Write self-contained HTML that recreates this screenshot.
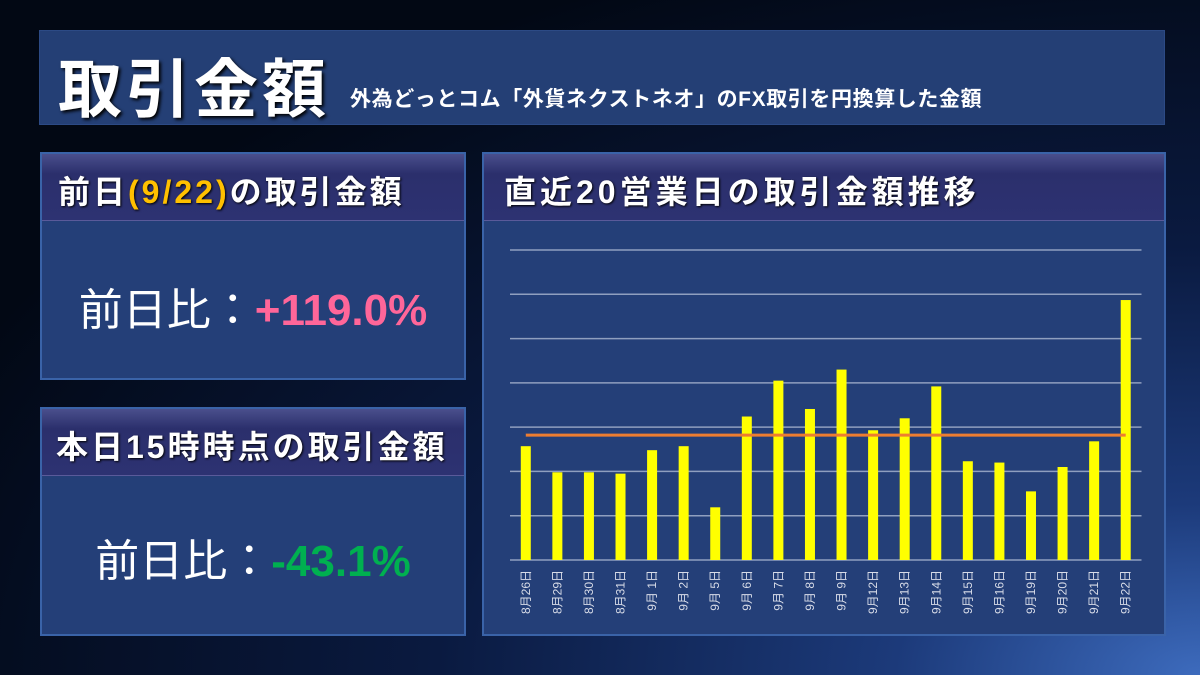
<!DOCTYPE html>
<html><head><meta charset="utf-8">
<style>
body{margin:0;width:1200px;height:675px;overflow:hidden;font-family:"Liberation Sans","Noto Sans CJK JP",sans-serif;}
#bg{position:absolute;left:0;top:0;width:1200px;height:675px;background:radial-gradient(ellipse at 100% 100%,#3d6bbd 0%,#1c3a7a 18%,#0a1a40 45%,#020814 80%);}
.box{position:absolute;background:#243f78;border:2px solid #3a63a8;box-sizing:border-box;}
.hdr{position:absolute;left:0;top:0;right:0;background:linear-gradient(#4a4f8c,#2b2f6c 30%,#2d3272);border-bottom:1px solid #5a5a9a;color:#fff;font-weight:bold;box-sizing:border-box;text-shadow:1px 1px 2px #000;letter-spacing:3px;white-space:nowrap;}
.big{position:absolute;left:0;right:0;text-align:center;font-size:44px;color:#fff;white-space:nowrap;}
</style></head><body>
<div id="bg"></div>
<div class="box" style="left:39px;top:30px;width:1126px;height:95px;background:#243f75;border:1px solid #2c4a85;">
  <span style="position:absolute;left:18px;top:8px;font-size:64px;letter-spacing:4px;font-weight:bold;color:#fff;text-shadow:2px 2px 3px #000;">取引金額</span>
  <span style="position:absolute;left:310px;top:52px;font-size:21px;letter-spacing:0.6px;font-weight:bold;color:#fff;">外為どっとコム「外貨ネクストネオ」のFX取引を円換算した金額</span>
</div>
<div class="box" style="left:40px;top:152px;width:426px;height:228px;">
  <div class="hdr" style="height:67px;padding:13px 0 0 16px;font-size:32px;">前日<span style="color:#ffc000">(9/22)</span>の取引金額</div>
  <div class="big" style="top:120px;">前日比：<span style="color:#ff6699;font-weight:bold;">+119.0%</span></div>
</div>
<div class="box" style="left:40px;top:407px;width:426px;height:229px;">
  <div class="hdr" style="height:67px;padding:13px 0 0 14px;font-size:32px;">本日15時時点の取引金額</div>
  <div class="big" style="top:116px;">前日比：<span style="color:#00b050;font-weight:bold;">-43.1%</span></div>
</div>
<div class="box" style="left:482px;top:152px;width:684px;height:484px;">
  <div class="hdr" style="height:67px;padding:13px 0 0 20px;font-size:32px;letter-spacing:4px;">直近20営業日の取引金額推移</div>
</div>
<svg id="chart" width="1200" height="675" style="position:absolute;left:0;top:0;"></svg>
<script>
const categories=["8月26日","8月29日","8月30日","8月31日","9月 1日","9月 2日","9月 5日","9月 6日","9月 7日","9月 8日","9月 9日","9月12日","9月13日","9月14日","9月15日","9月16日","9月19日","9月20日","9月21日","9月22日"];
const values=[2.57,1.98,1.98,1.95,2.48,2.57,1.19,3.24,4.05,3.41,4.30,2.93,3.20,3.92,2.23,2.20,1.55,2.10,2.68,5.87];
const yTicks=[0,1,2,3,4,5,6,7];
const NS="http://www.w3.org/2000/svg";
const svg=document.getElementById('chart');
const x0=510,x1=1141.5,yBase=560,yTop=250,yMax=7;
const band=(x1-x0)/categories.length;
function xs(i){return x0+band*(i+0.5);}
function ys(v){return yBase-(v/yMax)*(yBase-yTop);}
function mk(t,a){const e=document.createElementNS(NS,t);for(const k in a)e.setAttribute(k,a[k]);svg.appendChild(e);return e;}
yTicks.forEach(t=>{
  const l=mk('line',{x1:x0,x2:x1,y1:ys(t),y2:ys(t),stroke:'#8f9fbf','stroke-width':1.5});
  
  
});
values.forEach((v,i)=>{
  const r=mk('rect',{x:xs(i)-5,y:ys(v),width:10,height:yBase-ys(v),fill:'#ffff00'});
  
  
  const t=mk('text',{x:0,y:0,transform:`translate(${xs(i)+4},${570}) rotate(-90)`,'text-anchor':'end',fill:'#d8dce8','font-size':12,'font-family':'"Liberation Sans","Noto Sans CJK JP",sans-serif'});
  t.textContent=categories[i];
  
  
});
const avg=values.reduce((a,b)=>a+b,0)/values.length;
const al=mk('line',{x1:xs(0),x2:xs(values.length-1),y1:ys(avg),y2:ys(avg),stroke:'#ed7d31','stroke-width':3});


</script>
</body></html>
